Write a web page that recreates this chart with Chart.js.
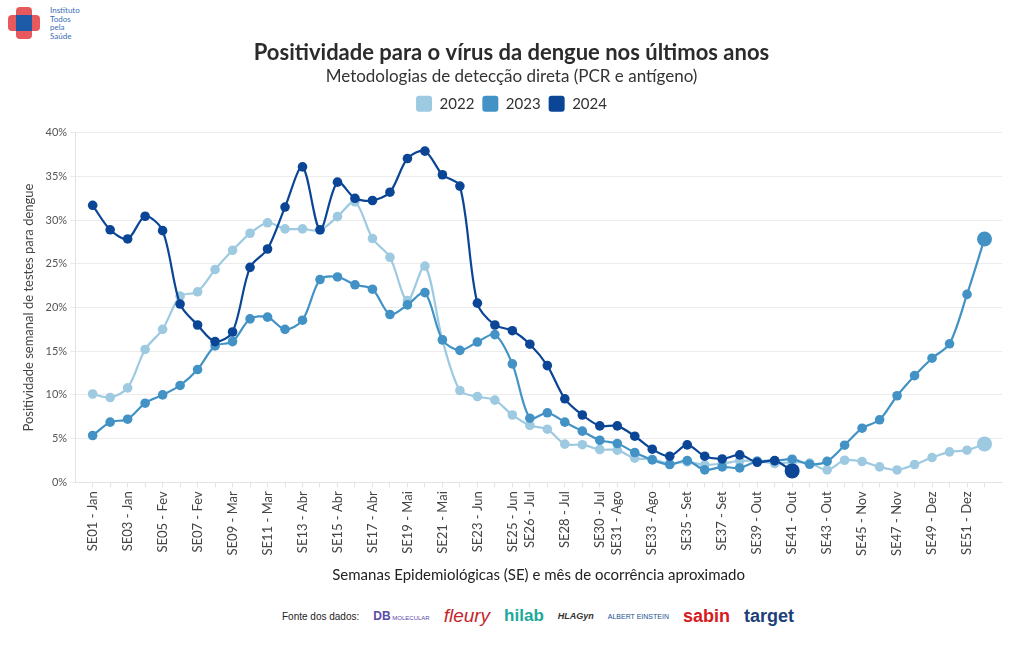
<!DOCTYPE html>
<html lang="pt-BR">
<head>
    <meta charset="UTF-8">
    <title>Positividade dengue</title>
    <script src="https://cdn.jsdelivr.net/npm/chart.js"></script>
    <style>
        body {
            margin: 0;
            background: white;
            font-family: "Lato", "Open Sans", sans-serif;
            width: 1020px;
            height: 650px;
            position: relative;
            overflow: hidden;
        }

        /* Chart canvas */
        .chart-box {
            position: absolute;
            left: 0;
            top: 0;
            width: 1020px;
            height: 592px;
        }

        /* Logo top left */
        .its-logo {
            position: absolute;
            left: 8px;
            top: 5px;
            width: 120px;
            height: 40px;
        }
        .its-logo .bar-h {
            position: absolute; left: 0; top: 10px; width: 32px; height: 16px;
            background: #e8595d; border-radius: 4px;
        }
        .its-logo .bar-v {
            position: absolute; left: 8px; top: 2px; width: 16px; height: 32px;
            background: #e8595d; border-radius: 4px;
        }
        .its-logo .core {
            position: absolute; left: 8px; top: 10px; width: 16px; height: 16px;
            background: #1d5aa8;
        }
        .its-logo .txt {
            position: absolute; left: 42px; top: 1px;
            font-size: 8px; line-height: 8.5px; color: #3a6fb8;
        }

        /* Sources strip */
        .sources {
            position: absolute;
            left: 282px;
            top: 600px;
            height: 32px;
            display: flex;
            align-items: center;
            gap: 14px;
            font-family: "Liberation Sans", sans-serif;
        }
        .sources .lbl { font-size: 10px; color: #222; }
        .lg { font-weight: bold; white-space: nowrap; }
    </style>
</head>
<body>

    <div class="its-logo">
        <div class="bar-h"></div>
        <div class="bar-v"></div>
        <div class="core"></div>
        <div class="txt">Instituto<br>Todos<br>pela<br>Saúde</div>
    </div>

    <div class="chart-box">
        <canvas id="dengueChart" width="1020" height="592"></canvas>
    </div>

    <div class="sources">
        <span class="lbl">Fonte dos dados:</span>
        <span class="lg" style="color:#5b4aa8;font-size:12px;">DB<span style="font-size:6px;font-weight:normal;"> MOLECULAR</span></span>
        <span class="lg" style="color:#c4262e;font-size:19px;font-style:italic;font-weight:normal;">fleury</span>
        <span class="lg" style="color:#1aa99a;font-size:17px;">hilab</span>
        <span class="lg" style="color:#333;font-size:9px;font-style:italic;">HLAGyn</span>
        <span class="lg" style="color:#1d4f91;font-size:7px;font-weight:normal;">ALBERT EINSTEIN</span>
        <span class="lg" style="color:#d71920;font-size:18px;">sabin</span>
        <span class="lg" style="color:#1b3f7a;font-size:18px;">target</span>
    </div>

    <script>
        // Semanas epidemiológicas (eixo x)
        const weeks = [1, 2, 3, 4, 5, 6, 7, 8, 9, 10, 11, 12, 13, 14, 15, 16, 17, 18, 19, 20,
                       21, 22, 23, 24, 25, 26, 27, 28, 29, 30, 31, 32, 33, 34, 35, 36, 37, 38, 39, 40,
                       41, 42, 43, 44, 45, 46, 47, 48, 49, 50, 51, 52];

        // Semanas que recebem rótulo e seus textos
        const labelWeeks = [1, 3, 5, 7, 9, 11, 13, 15, 17, 19, 21, 23, 25, 26, 28, 30, 31, 33,
                            35, 37, 39, 41, 43, 45, 47, 49, 51];
        const labelTexts = ['SE01 - Jan', 'SE03 - Jan', 'SE05 - Fev', 'SE07 - Fev', 'SE09 - Mar',
                            'SE11 - Mar', 'SE13 - Abr', 'SE15 - Abr', 'SE17 - Abr', 'SE19 - Mai',
                            'SE21 - Mai', 'SE23 - Jun', 'SE25 - Jun', 'SE26 - Jul', 'SE28 - Jul',
                            'SE30 - Jul', 'SE31 - Ago', 'SE33 - Ago', 'SE35 - Set', 'SE37 - Set',
                            'SE39 - Out', 'SE41 - Out', 'SE43 - Out', 'SE45 - Nov', 'SE47 - Nov',
                            'SE49 - Dez', 'SE51 - Dez'];

        // Positividade (%) por semana
        const pos2022 = [10.1, 9.7, 10.8, 15.2, 17.5, 21.3, 21.8, 24.35, 26.55, 28.5,
                         29.7, 29.0, 29.0, 28.85, 30.4, 32.1, 27.9, 25.75, 20.8, 24.75,
                         16.3, 10.5, 9.8, 9.4, 7.7, 6.5, 6.07, 4.36, 4.3, 3.75,
                         3.67, 2.75, 2.64, 2.14, 2.33, 2.0, 2.14, 2.44, 2.44, 2.14,
                         2.29, 2.2, 1.41, 2.52, 2.37, 1.76, 1.41, 2.03, 2.83, 3.48,
                         3.67, 4.39];
        const pos2023 = [5.35, 6.88, 7.22, 9.05, 10.0, 11.08, 12.9, 15.6, 16.1, 18.7,
                         18.9, 17.5, 18.55, 23.2, 23.5, 22.6, 22.1, 19.2, 20.3, 21.7,
                         16.3, 15.1, 16.05, 16.9, 13.55, 7.33, 7.95, 6.88, 5.85, 4.81,
                         4.43, 3.4, 2.56, 2.03, 2.48, 1.42, 1.76, 1.64, 2.4, 2.45,
                         2.64, 2.06, 2.4, 4.24, 6.19, 7.15, 9.9, 12.2, 14.2, 15.85,
                         21.5, 27.85];
        const pos2024 = [31.7, 28.9, 27.85, 30.45, 28.8, 20.4, 18.0, 16.1, 17.2, 24.6,
                         26.7, 31.5, 36.1, 28.9, 34.35, 32.5, 32.25, 33.2, 37.05, 37.9,
                         35.2, 33.9, 20.5, 18.0, 17.35, 15.8, 13.35, 9.55, 7.7, 6.45,
                         6.45, 5.27, 3.78, 2.98, 4.28, 2.98, 2.67, 3.13, 2.29, 2.48,
                         1.3];

        const seriesNames = ['2022', '2023', '2024'];
        const seriesColors = ['#9ecae1', '#4292c6', '#0b4596'];
        const seriesValues = [pos2022, pos2023, pos2024];

        const fontFamily = '"Lato", "Open Sans", sans-serif';

        function makeDataset(i) {
            const values = seriesValues[i];
            const last = values.length - 1;
            return {
                label: seriesNames[i],
                data: values.map((v, k) => ({ x: weeks[k], y: v })),
                borderColor: seriesColors[i],
                backgroundColor: seriesColors[i],
                borderWidth: 2.2,
                tension: 0.3,
                pointRadius: ctx => ctx.dataIndex === last ? 7.5 : 4.8,
                pointHoverRadius: 7,
                pointBorderWidth: 0,
                order: 3 - i
            };
        }

        // espaço extra abaixo da legenda
        const legendGap = {
            id: 'legendGap',
            beforeInit(chart) {
                const fit = chart.legend.fit;
                chart.legend.fit = function () {
                    fit.bind(chart.legend)();
                    this.height += 11;
                };
            }
        };

        const ctx = document.getElementById('dengueChart').getContext('2d');
        new Chart(ctx, {
            type: 'line',
            data: {
                datasets: [makeDataset(0), makeDataset(1), makeDataset(2)]
            },
            options: {
                responsive: false,
                animation: false,
                layout: {
                    padding: { top: 40, left: 21, right: 18, bottom: 8 }
                },
                plugins: {
                    title: {
                        display: true,
                        text: 'Positividade para o vírus da dengue nos últimos anos',
                        color: '#2b2b2b',
                        font: { family: fontFamily, size: 22, weight: 'bold' },
                        padding: { top: 0, bottom: 0 }
                    },
                    subtitle: {
                        display: true,
                        text: 'Metodologias de detecção direta (PCR e antígeno)',
                        color: '#333',
                        font: { family: fontFamily, size: 17 },
                        padding: { top: 0, bottom: 1 }
                    },
                    legend: {
                        display: true,
                        position: 'top',
                        labels: {
                            color: '#333',
                            font: { family: fontFamily, size: 15 },
                            boxWidth: 16,
                            boxHeight: 16,
                            padding: 8,
                            generateLabels: chart => chart.data.datasets.map((ds, i) => ({
                                text: ds.label,
                                fillStyle: ds.borderColor,
                                strokeStyle: ds.borderColor,
                                lineWidth: 0,
                                borderRadius: 3,
                                datasetIndex: i,
                                fontColor: '#333'
                            }))
                        }
                    },
                    tooltip: {
                        callbacks: {
                            label: item => item.dataset.label + ': ' + item.parsed.y.toFixed(1) + '%'
                        }
                    }
                },
                scales: {
                    x: {
                        type: 'linear',
                        min: 0,
                        max: 53,
                        afterBuildTicks: axis => {
                            axis.ticks = weeks.map(w => ({ value: w }));
                        },
                        ticks: {
                            autoSkip: false,
                            maxRotation: 90,
                            minRotation: 90,
                            color: '#444',
                            padding: 4,
                            font: { family: fontFamily, size: 13 },
                            callback: value => {
                                const k = labelWeeks.indexOf(value);
                                return k >= 0 ? labelTexts[k] : '';
                            }
                        },
                        grid: {
                            display: true,
                            drawOnChartArea: false,
                            drawTicks: true,
                            tickLength: 5,
                            color: '#e3e3e3'
                        },
                        border: { display: true, color: '#e3e3e3' },
                        title: {
                            display: true,
                            text: 'Semanas Epidemiológicas (SE) e mês de ocorrência aproximado',
                            color: '#222',
                            font: { family: fontFamily, size: 15 },
                            padding: { top: 6, bottom: 0 }
                        }
                    },
                    y: {
                        min: 0,
                        max: 40,
                        ticks: {
                            stepSize: 5,
                            color: '#555',
                            padding: 3,
                            font: { family: fontFamily, size: 11 },
                            callback: value => value + '%'
                        },
                        grid: {
                            color: '#ececec',
                            tickLength: 5
                        },
                        border: { display: true, color: '#e3e3e3' },
                        title: {
                            display: true,
                            text: 'Positividade semanal de testes para dengue',
                            color: '#444',
                            font: { family: fontFamily, size: 13 },
                            padding: { top: 0, bottom: 6 }
                        }
                    }
                }
            },
            plugins: [legendGap]
        });
    </script>

</body>
</html>
